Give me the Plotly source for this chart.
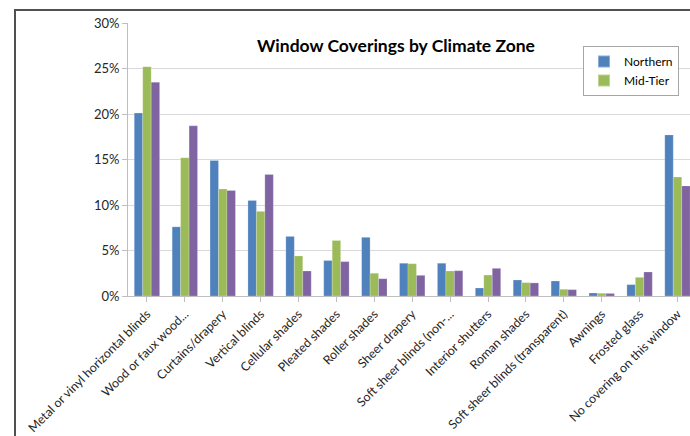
import plotly.graph_objects as go

categories = [
    "Metal or vinyl horizontal blinds",
    "Wood or faux wood...",
    "Curtains/drapery",
    "Vertical blinds",
    "Cellular shades",
    "Pleated shades",
    "Roller shades",
    "Sheer drapery",
    "Soft sheer blinds (non-...",
    "Interior shutters",
    "Roman shades",
    "Soft sheer blinds (transparent)",
    "Awnings",
    "Frosted glass",
    "No covering on this window",
]
northern = [20.1, 7.6, 14.9, 10.5, 6.55, 3.9, 6.45, 3.6, 3.6, 0.88, 1.76, 1.65, 0.33, 1.25, 17.7]
mid_tier = [25.2, 15.2, 11.75, 9.3, 4.4, 6.1, 2.5, 3.55, 2.75, 2.3, 1.47, 0.74, 0.3, 2.05, 13.07]
southern = [23.5, 18.7, 11.6, 13.36, 2.75, 3.78, 1.9, 2.27, 2.78, 3.04, 1.44, 0.7, 0.28, 2.64, 12.1]
series_names = ["Northern", "Mid-Tier", "Southern"]
colors = ["#4F81BD", "#9BBB59", "#8064A2"]
y_ticks = [0, 5, 10, 15, 20, 25, 30]
y_tick_labels = ["0%", "5%", "10%", "15%", "20%", "25%", "30%"]

FONT = "Lato, 'Open Sans', sans-serif"

fig = go.Figure()
for name, vals, col, show in zip(series_names, [northern, mid_tier, southern], colors, [True, True, False]):
    fig.add_trace(go.Bar(
        x=list(range(len(categories))), y=vals, name=name,
        marker=dict(color=col, line=dict(color="rgba(255,255,255,0.35)", width=0.6)),
        showlegend=show,
    ))

fig.update_layout(
    width=690, height=436,
    margin=dict(l=128, r=0, t=23, b=140, autoexpand=False),
    paper_bgcolor="white", plot_bgcolor="white",
    barmode="group", bargap=0.33, bargroupgap=0,
    font=dict(family=FONT, size=12, color="#262626"),
    title=dict(text="<b>Window Coverings by Climate Zone</b>",
               font=dict(family=FONT, size=17.5, color="#000000"),
               x=(396 - 0) / 690, xanchor="center", y=1 - 46 / 436, yanchor="middle"),
    legend=dict(x=(679 - 128) / 562, y=1 - (46 - 23) / 273, xanchor="right", yanchor="top",
                bgcolor="white", bordercolor="#A6A6A6", borderwidth=1,
                font=dict(family=FONT, size=12, color="#000000"),
                itemsizing="constant", itemwidth=30, tracegroupgap=0),
    xaxis=dict(
        tickmode="array", tickvals=list(range(len(categories))), ticktext=categories,
        tickangle=-45, range=[-0.5, 14.33], automargin=False,
        showline=True, linecolor="#BFBFBF", linewidth=1,
        ticks="outside", ticklen=5, tickcolor="#BFBFBF", tickson="boundaries",
        showgrid=False, tickfont=dict(family=FONT, size=12.4, color="#262626"),
    ),
    yaxis=dict(
        range=[0, 30], tickvals=y_ticks, ticktext=y_tick_labels, automargin=False,
        showgrid=True, gridcolor="#D9D9D9", gridwidth=1,
        showline=True, linecolor="#BFBFBF", linewidth=1,
        ticks="outside", ticklen=5, tickcolor="#BFBFBF",
        zeroline=False, tickfont=dict(family=FONT, size=13, color="#262626"),
    ),
)

# outer chart frame (cropped on right/bottom)
fig.add_shape(type="rect", xref="paper", yref="paper",
              x0=(15 - 128) / 562, x1=1.2, y0=-0.7, y1=1 + 13 / 273,
              line=dict(color="#505050", width=2), fillcolor="rgba(0,0,0,0)", layer="above")

fig.write_html("out.html")
